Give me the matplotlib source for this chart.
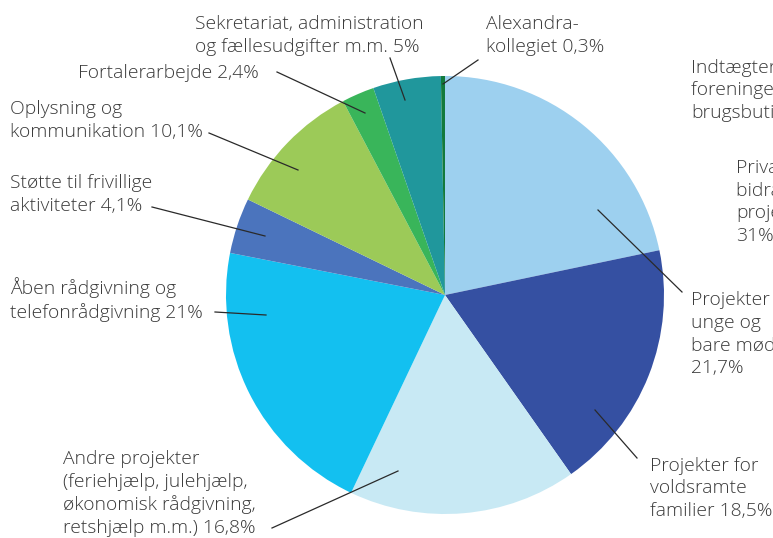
import matplotlib
matplotlib.use("Agg")
import matplotlib.pyplot as plt

# slices, clockwise from 12 o'clock
labels = ["Projekter for\nunge og\nbare mødre\n21,7%",
          "Projekter for\nvoldsramte\nfamilier 18,5%",
          "Andre projekter\n(feriehjælp, julehjælp,\nøkonomisk rådgivning,\nretshjælp m.m.) 16,8%",
          "Åben rådgivning og\ntelefonrådgivning 21%",
          "Støtte til frivillige\naktiviteter 4,1%",
          "Oplysning og\nkommunikation 10,1%",
          "Fortalerarbejde 2,4%",
          "Sekretariat, administration\nog fællesudgifter m.m. 5%",
          "Alexandra-\nkollegiet 0,3%"]
values = [21.7, 18.5, 16.8, 21.0, 4.1, 10.1, 2.4, 5.0, 0.3]
colors = ["#9dd0ef", "#3550a2", "#c8e9f4", "#13c0f0", "#4b74bd",
          "#9cca58", "#39b55a", "#20979c", "#137a3c"]

# label (left x, last-line baseline y) and leader line (text end -> slice), pixel coords
label_pos = [(691, 373), (650, 516), (63, 533), (10, 318), (10, 211),
             (10, 137), (78, 78), (195, 52), (486, 52)]
leaders = [((682, 292), (598, 210)), ((637, 458), (595, 410)),
           ((272, 528), (398, 471)), ((215, 312), (266, 315)),
           ((152, 207), (265, 236)), ((209, 133), (298, 170)),
           ((277, 72), (365, 113)), ((390, 58), (405, 100)),
           ((478, 60), (443, 84))]

# cut-off labels from the neighbouring chart on the right
other_labels = ["Indtægter fra\nforeninger og\nbrugsbutikker", "Private\nbidrag til\nprojekter\n31%"]
other_pos = [(691, 118), (736, 241)]

W, H = 773, 538
fig = plt.figure(figsize=(W / 100, H / 100), dpi=100)
ax = fig.add_axes([0, 0, 1, 1])

ax.pie(values, colors=colors, startangle=90, counterclock=False,
       center=(445, H - 295), radius=219, frame=True,
       wedgeprops=dict(linewidth=0))

txt = dict(fontsize=13.9, color="#3a3a3a", family="Open Sans", fontweight="light",
           va="baseline", ha="left", linespacing=1.33)
for lab, (x, y) in zip(labels, label_pos):
    ax.text(x, H - y, lab, **txt)
for lab, (x, y) in zip(other_labels, other_pos):
    ax.text(x, H - y, lab, **txt)

for (x0, y0), (x1, y1) in leaders:
    ax.plot([x0, x1], [H - y0, H - y1], color="#2a2a2a", lw=0.9)

ax.set_xlim(0, W)
ax.set_ylim(0, H)
ax.set_aspect("auto")
ax.axis("off")

fig.savefig("out.png", dpi=100)
